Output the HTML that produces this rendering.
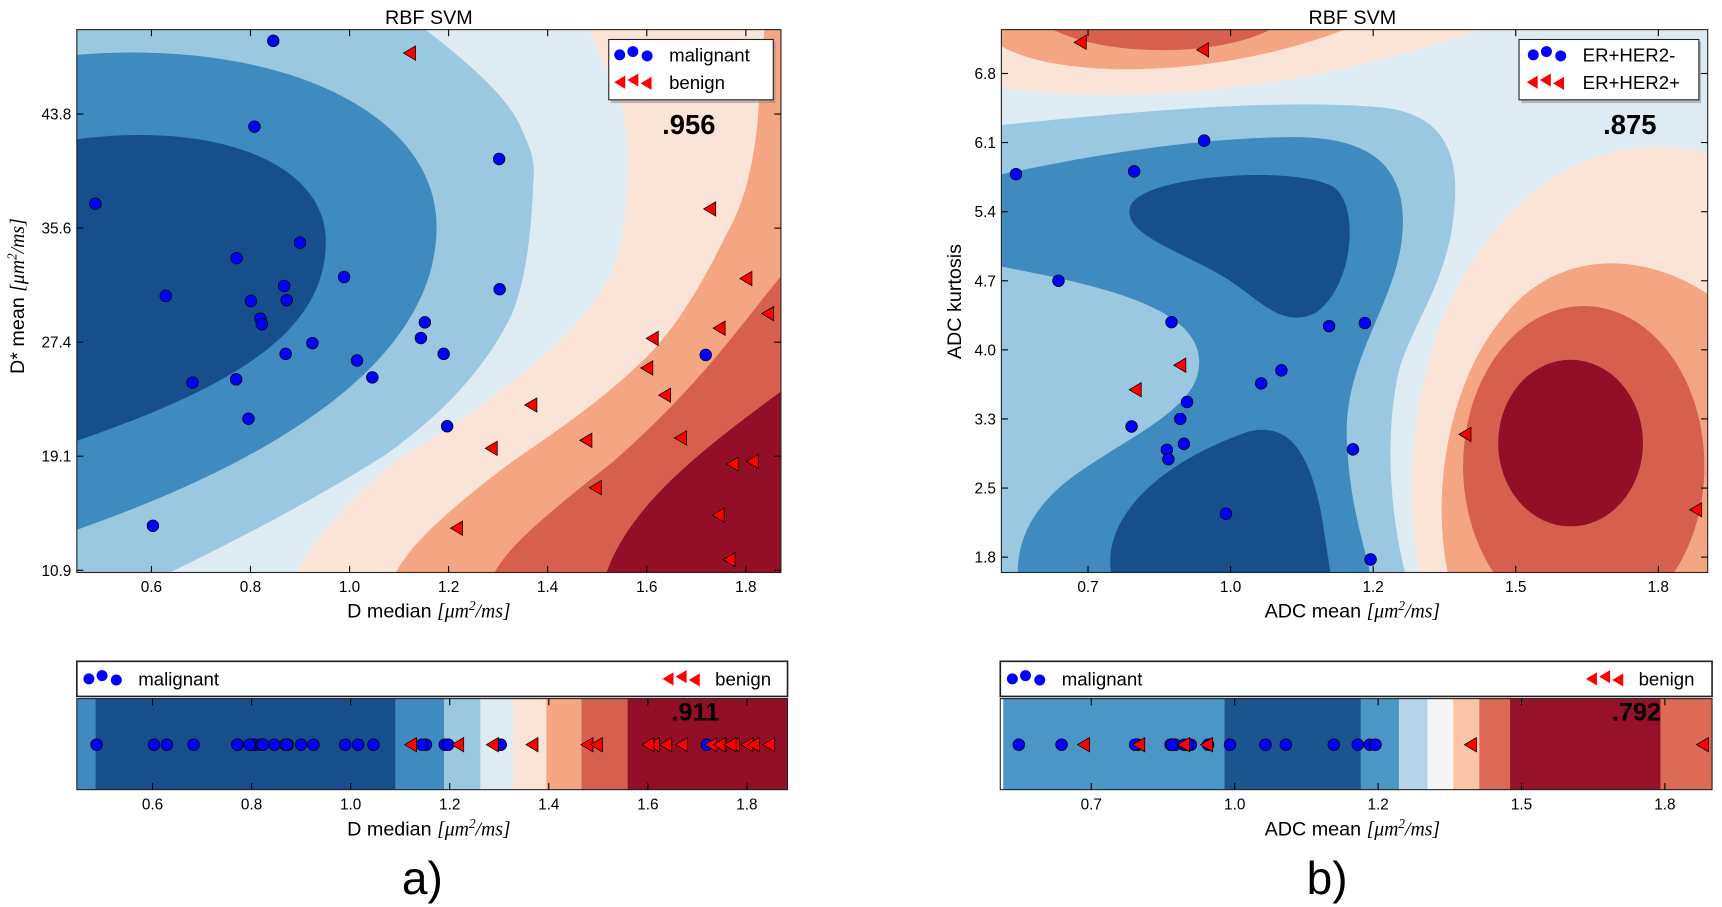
<!DOCTYPE html>
<html><head><meta charset="utf-8">
<style>
html,body{margin:0;padding:0;background:#fff;}
svg{display:block;}
text{font-family:"Liberation Sans","DejaVu Sans",sans-serif;}
.m{font-family:"Liberation Serif",serif;font-style:italic;}
</style></head>
<body>
<svg id="fig" width="1722" height="907" viewBox="0 0 1570 827" xmlns="http://www.w3.org/2000/svg">
<defs>
<clipPath id="clipA"><rect x="70" y="27" width="642" height="495"/></clipPath>
<clipPath id="clipB"><rect x="913" y="27" width="644" height="495"/></clipPath>
</defs>
<g id="panelA">
 <g clip-path="url(#clipA)">
  <rect x="70" y="27" width="642" height="495" fill="#930f27"/>
  <path d="M70,27 L712,27 L712,357 C640,410 575,460 553,522 L70,522 Z" fill="#d6604d"/>
  <path d="M70,27 L712,27 L712,252 C680,290 640,350 560,420 C510,460 465,495 451,522 L70,522 Z" fill="#f4a582"/>
  <path d="M70,27 L697,27 C694,60 692,90 691,108 C686,160 676,190 661,216 C640,260 615,300 591,324 C540,375 480,410 451,433 C410,465 375,495 361,522 L70,522 Z" fill="#fae4d8"/>
  <path d="M70,27 L536,27 C552,60 568,90 571,119 C575,170 570,220 556,252 C530,300 490,330 451,360 C400,400 370,410 346,433 C310,465 285,495 270,522 L70,522 Z" fill="#deebf3"/>
  <path d="M70,27 L388,27 C430,60 465,90 476,119 C486,140 488,150 486,169 C484,220 478,260 466,288 C440,340 400,380 351,415 C280,460 200,500 155,522 L70,522 Z" fill="#9ac8e0"/>
  <path d="M70,50 C250,35 400,100 398,209 C396,330 250,420 70,483 Z" fill="#3f8bc0"/>
  <path d="M70,127 C200,110 297,150 297,220 C297,300 220,350 70,402 Z" fill="#174f8c"/>
 </g>
 <g id="pointsA"></g>
 <rect x="70" y="27" width="642" height="495" fill="none" stroke="#222" stroke-width="1"/>
 <g id="axesA"></g>
 <text x="391" y="22" font-size="18" text-anchor="middle">RBF SVM</text>
 <text x="391" y="563" font-size="18" text-anchor="middle">D median <tspan class="m">[μm</tspan><tspan class="m" font-size="12" dy="-7">2</tspan><tspan class="m" dy="7">/ms]</tspan></text>
 <text transform="translate(22,270) rotate(-90)" font-size="18" text-anchor="middle">D* mean <tspan class="m">[μm</tspan><tspan class="m" font-size="12" dy="-7">2</tspan><tspan class="m" dy="7">/ms]</tspan></text>
 <g>
  <rect x="557" y="38" width="150" height="56" fill="#888" opacity="0.5"/>
  <rect x="555" y="36" width="150" height="55" fill="#fff" stroke="#222" stroke-width="1"/>
  <circle cx="565" cy="50" r="5" fill="#0000ff"/><circle cx="577" cy="47" r="5" fill="#0000ff"/><circle cx="590" cy="51" r="5" fill="#0000ff"/>
  <text x="610" y="56" font-size="17">malignant</text>
  <path d="M560,75 l10,-6 v12 z M572,73 l10,-6 v12 z M584,76 l10,-6 v12 z" fill="#ff0000"/>
  <text x="610" y="81" font-size="17">benign</text>
 </g>
 <text x="628" y="122" font-size="25" font-weight="bold" text-anchor="middle">.956</text>
</g>

<g id="panelB">
 <g clip-path="url(#clipB)">
  <rect x="913" y="27" width="644" height="495" fill="#deebf3"/>
  <path d="M913,27 L913,80 C1000,92 1150,95 1351,27 Z" fill="#fae4d8"/>
  <path d="M913,27 L913,42 C960,70 1100,75 1226,27 Z" fill="#f4a582"/>
  <path d="M960,27 C1010,52 1110,52 1158,27 Z" fill="#d6604d"/>
  <path d="M1557,140 C1480,118 1380,150 1320,280 C1285,360 1280,460 1295,522 L1557,522 Z" fill="#fae4d8"/>
  <path d="M1557,268 C1500,230 1420,225 1370,290 C1320,350 1305,450 1320,522 L1557,522 Z" fill="#f4a582"/>
  <ellipse cx="1444" cy="425" rx="110" ry="146" fill="#d6604d"/>
  <ellipse cx="1432" cy="404" rx="66" ry="76" fill="#930f27"/>
  <path d="M913,114 C1050,100 1170,90 1260,98 C1330,105 1330,160 1325,200 C1318,260 1285,300 1275,340 C1262,400 1268,470 1281,522 L913,522 Z" fill="#9ac8e0"/>
  <path d="M913,159 C1000,140 1100,125 1180,125 C1260,125 1285,160 1278,220 C1270,280 1225,330 1228,400 C1230,460 1245,500 1249,522 L928,522 C928,500 935,475 960,450 C1000,410 1090,380 1093,335 C1100,280 1000,260 913,243 Z" fill="#3f8bc0"/>
  <path d="M1030,190 C1035,160 1180,150 1215,170 C1240,185 1235,260 1200,285 C1170,300 1150,275 1120,255 C1080,230 1025,215 1030,190 Z" fill="#174f8c"/>
  <path d="M1013,522 C1005,470 1060,420 1140,393 C1180,385 1195,420 1205,470 L1213,522 Z" fill="#174f8c"/>
 </g>
 <g id="pointsB"></g>
 <rect x="913" y="27" width="644" height="495" fill="none" stroke="#222" stroke-width="1"/>
 <g id="axesB"></g>
 <text x="1233" y="22" font-size="18" text-anchor="middle">RBF SVM</text>
 <text x="1233" y="563" font-size="18" text-anchor="middle">ADC mean <tspan class="m">[μm</tspan><tspan class="m" font-size="12" dy="-7">2</tspan><tspan class="m" dy="7">/ms]</tspan></text>
 <text transform="translate(876,275) rotate(-90)" font-size="18" text-anchor="middle">ADC kurtosis</text>
 <g>
  <rect x="1387" y="38" width="164" height="56" fill="#888" opacity="0.5"/>
  <rect x="1385" y="36" width="164" height="55" fill="#fff" stroke="#222" stroke-width="1"/>
  <circle cx="1398" cy="50" r="5" fill="#0000ff"/><circle cx="1410" cy="47" r="5" fill="#0000ff"/><circle cx="1423" cy="51" r="5" fill="#0000ff"/>
  <text x="1443" y="56" font-size="17">ER+HER2-</text>
  <path d="M1392,75 l10,-6 v12 z M1404,73 l10,-6 v12 z M1416,76 l10,-6 v12 z" fill="#ff0000"/>
  <text x="1443" y="81" font-size="17">ER+HER2+</text>
 </g>
 <text x="1486" y="122" font-size="25" font-weight="bold" text-anchor="middle">.875</text>
</g>

<g id="stripA">
 <g id="bandsA"></g>
 <g id="stripPtsA"></g>
 <rect x="70" y="637" width="648" height="83" fill="none" stroke="#222" stroke-width="1"/>
 <g id="stripAxA"></g>
 <g>
  <rect x="70" y="603" width="648" height="32" fill="#fff" stroke="#222" stroke-width="1.5"/>
  <circle cx="81" cy="619" r="5" fill="#0000ff"/><circle cx="93" cy="616" r="5" fill="#0000ff"/><circle cx="106" cy="620" r="5" fill="#0000ff"/>
  <text x="126" y="625" font-size="17">malignant</text>
  <path d="M604,619 l10,-6 v12 z M616,617 l10,-6 v12 z M628,620 l10,-6 v12 z" fill="#ff0000"/>
  <text x="652" y="625" font-size="17">benign</text>
 </g>
 <text x="634" y="657" font-size="23" font-weight="bold" text-anchor="middle">.911</text>
 <text x="391" y="762" font-size="18" text-anchor="middle">D median <tspan class="m">[μm</tspan><tspan class="m" font-size="12" dy="-7">2</tspan><tspan class="m" dy="7">/ms]</tspan></text>
 <text x="385" y="815" font-size="42" text-anchor="middle">a)</text>
</g>

<g id="stripB">
 <g id="bandsB"></g>
 <g id="stripPtsB"></g>
 <rect x="912" y="637" width="649" height="83" fill="none" stroke="#222" stroke-width="1"/>
 <g id="stripAxB"></g>
 <g>
  <rect x="912" y="603" width="649" height="32" fill="#fff" stroke="#222" stroke-width="1.5"/>
  <circle cx="923" cy="619" r="5" fill="#0000ff"/><circle cx="935" cy="616" r="5" fill="#0000ff"/><circle cx="948" cy="620" r="5" fill="#0000ff"/>
  <text x="968" y="625" font-size="17">malignant</text>
  <path d="M1446,619 l10,-6 v12 z M1458,617 l10,-6 v12 z M1470,620 l10,-6 v12 z" fill="#ff0000"/>
  <text x="1494" y="625" font-size="17">benign</text>
 </g>
 <text x="1492" y="657" font-size="23" font-weight="bold" text-anchor="middle">.792</text>
 <text x="1233" y="762" font-size="18" text-anchor="middle">ADC mean <tspan class="m">[μm</tspan><tspan class="m" font-size="12" dy="-7">2</tspan><tspan class="m" dy="7">/ms]</tspan></text>
 <text x="1210" y="815" font-size="42" text-anchor="middle">b)</text>
</g>
</svg>
<script>
// ---------- Panel a data ----------
const aMalX = [0.846,0.808,1.302,0.487,0.900,0.772,0.989,0.868,1.303,0.629,0.801,0.873,0.820,0.823,1.152,1.144,0.925,0.871,1.190,1.015,1.046,0.683,0.771,0.796,1.197,0.603,1.719];
const aMalY = [49.08,42.89,40.56,37.33,34.52,33.41,32.05,31.40,31.17,30.69,30.32,30.37,29.04,28.64,28.78,27.65,27.28,26.51,26.51,26.03,24.81,24.44,24.67,21.83,21.29,14.11,26.43];
const aBenX = [1.121,1.727,1.800,1.844,1.746,1.611,1.600,1.636,1.366,1.477,1.668,1.286,1.773,1.813,1.496,1.744,1.216,1.766];
const aBenY = [48.2,36.96,31.94,29.41,28.36,27.62,25.49,23.53,22.82,20.27,20.44,19.70,18.56,18.76,16.86,14.88,13.94,11.67];
const aXTicks = [0.6,0.8,1.0,1.2,1.4,1.6,1.8];
const aXTickLabels = ["0.6","0.8","1.0","1.2","1.4","1.6","1.8"];
const aYTicks = [10.9,19.125,27.35,35.575,43.8];
const aYTickLabels = ["10.9","19.1","27.4","35.6","43.8"];
// strip a band edges (D median) and levels
const aBandEdges = [0.447,0.485,1.091,1.189,1.262,1.328,1.395,1.466,1.559,1.882];
const aBandColors = ["#3f8bc0","#174f8c","#3f8bc0","#9ac8e0","#deebf3","#fae4d8","#f4a582","#d6604d","#930f27"];

// ---------- Panel b data ----------
const bPosX = [0.561,0.789,0.924,0.643,0.861,1.165,1.234,1.073,1.034,0.891,0.878,0.784,0.885,0.852,0.855,1.211,0.966,1.245];
const bPosY = [5.759,5.788,6.106,4.657,4.229,4.188,4.220,3.731,3.596,3.404,3.229,3.151,2.971,2.910,2.812,2.914,2.249,1.776];
const bNegX = [0.685,0.921,0.877,0.791,1.427,1.872];
const bNegY = [7.122,7.045,3.784,3.531,3.069,2.290];
const bXTicks = [0.7,0.975,1.25,1.525,1.8];
const bXTickLabels = ["0.7","1.0","1.2","1.5","1.8"];
const bYTicks = [1.8,2.514,3.229,3.943,4.657,5.371,6.086,6.8];
const bYTickLabels = ["1.8","2.5","3.3","4.0","4.7","5.4","6.1","6.8"];
const bBandEdges = [0.531,0.955,1.217,1.290,1.345,1.394,1.444,1.503,1.792,1.900];
const bBandColors = ["#4a97c7","#1a5590","#4a97c7","#b5d4e8","#f5f5f5","#f9c4a8","#dd6a55","#98112a","#dd6a55"];

const NS = "http://www.w3.org/2000/svg";
function mk(tag, attrs, parent){const e=document.createElementNS(NS,tag);for(const k in attrs)e.setAttribute(k,attrs[k]);parent.appendChild(e);return e;}
function lin(d0,d1,r0,r1){return v=>r0+(v-d0)*(r1-r0)/(d1-d0);}

// axes functions
const axX = lin(0.6,1.8,138,680), axY = lin(43.8,10.9,104,520);
const bxX = lin(0.7,1.8,992,1512), bxY = lin(6.8,1.8,67,508);
const sxA = lin(0.6,1.8,139,681), sxB = lin(0.7,1.8,995,1518);

function circle(g,x,y){const c=mk('circle',{cx:x,cy:y,r:5.3,fill:'#0000ff',stroke:'#000','stroke-width':0.7},g);

}
function tri(g,x,y){const p=mk('path',{d:`M${x-5.5},${y} L${x+5.5},${y-6.5} L${x+5.5},${y+6.5} Z`,fill:'#ff0000',stroke:'#000','stroke-width':0.7},g);

}

function xAxis(g,ticks,labels,sx,yTop,yBot,labelY,fs){
  ticks.forEach((t,i)=>{const x=sx(t);
    mk('line',{x1:x,x2:x,y1:yBot,y2:yBot-6,stroke:'#000','stroke-width':1},g);
    if(yTop!==null) mk('line',{x1:x,x2:x,y1:yTop,y2:yTop+6,stroke:'#000','stroke-width':1},g);
    const tx=mk('text',{x:x,y:labelY,'font-size':fs,'text-anchor':'middle'},g);tx.textContent=labels[i];
    
    
  });
}
function yAxis(g,ticks,labels,sy,xL,xR){
  ticks.forEach((t,i)=>{const y=sy(t);
    mk('line',{x1:xL,x2:xL+6,y1:y,y2:y,stroke:'#000','stroke-width':1},g);
    mk('line',{x1:xR,x2:xR-6,y1:y,y2:y,stroke:'#000','stroke-width':1},g);
    const tx=mk('text',{x:xL-5,y:y+5,'font-size':14,'text-anchor':'end'},g);tx.textContent=labels[i];
    
    
  });
}

// panel a
const pA=document.getElementById('pointsA');
aMalX.forEach((v,i)=>circle(pA,axX(v),axY(aMalY[i])));
aBenX.forEach((v,i)=>tri(pA,axX(v),axY(aBenY[i])));
const gA=document.getElementById('axesA');
xAxis(gA,aXTicks,aXTickLabels,axX,27,522,540,14);
yAxis(gA,aYTicks,aYTickLabels,axY,70,712);

// panel b
const pB=document.getElementById('pointsB');
bPosX.forEach((v,i)=>circle(pB,bxX(v),bxY(bPosY[i])));
bNegX.forEach((v,i)=>tri(pB,bxX(v),bxY(bNegY[i])));
const gB=document.getElementById('axesB');
xAxis(gB,bXTicks,bXTickLabels,bxX,27,522,540,14);
yAxis(gB,bYTicks,bYTickLabels,bxY,913,1557);

// strips
function strip(bandG,ptsG,axG,edges,colors,sx,posX,negX,xLeft,xRight){
  for(let i=0;i<colors.length;i++){
    const x0=Math.max(xLeft,sx(edges[i])), x1=Math.min(xRight,sx(edges[i+1]));
    const r=mk('rect',{x:x0,y:637,width:Math.max(0,x1-x0),height:83,fill:colors[i]},bandG);
    
    
  }
  posX.forEach(v=>circle(ptsG,sx(v),679));
  negX.forEach(v=>tri(ptsG,sx(v),679));
}
strip(document.getElementById('bandsA'),document.getElementById('stripPtsA'),null,aBandEdges,aBandColors,sxA,aMalX,aBenX,70,718);
xAxis(document.getElementById('stripAxA'),aXTicks,aXTickLabels,sxA,637,720,738,14);
strip(document.getElementById('bandsB'),document.getElementById('stripPtsB'),null,bBandEdges,bBandColors,sxB,bPosX,bNegX,912,1561);
xAxis(document.getElementById('stripAxB'),bXTicks,bXTickLabels,sxB,637,720,738,14);
</script>
</body></html>
